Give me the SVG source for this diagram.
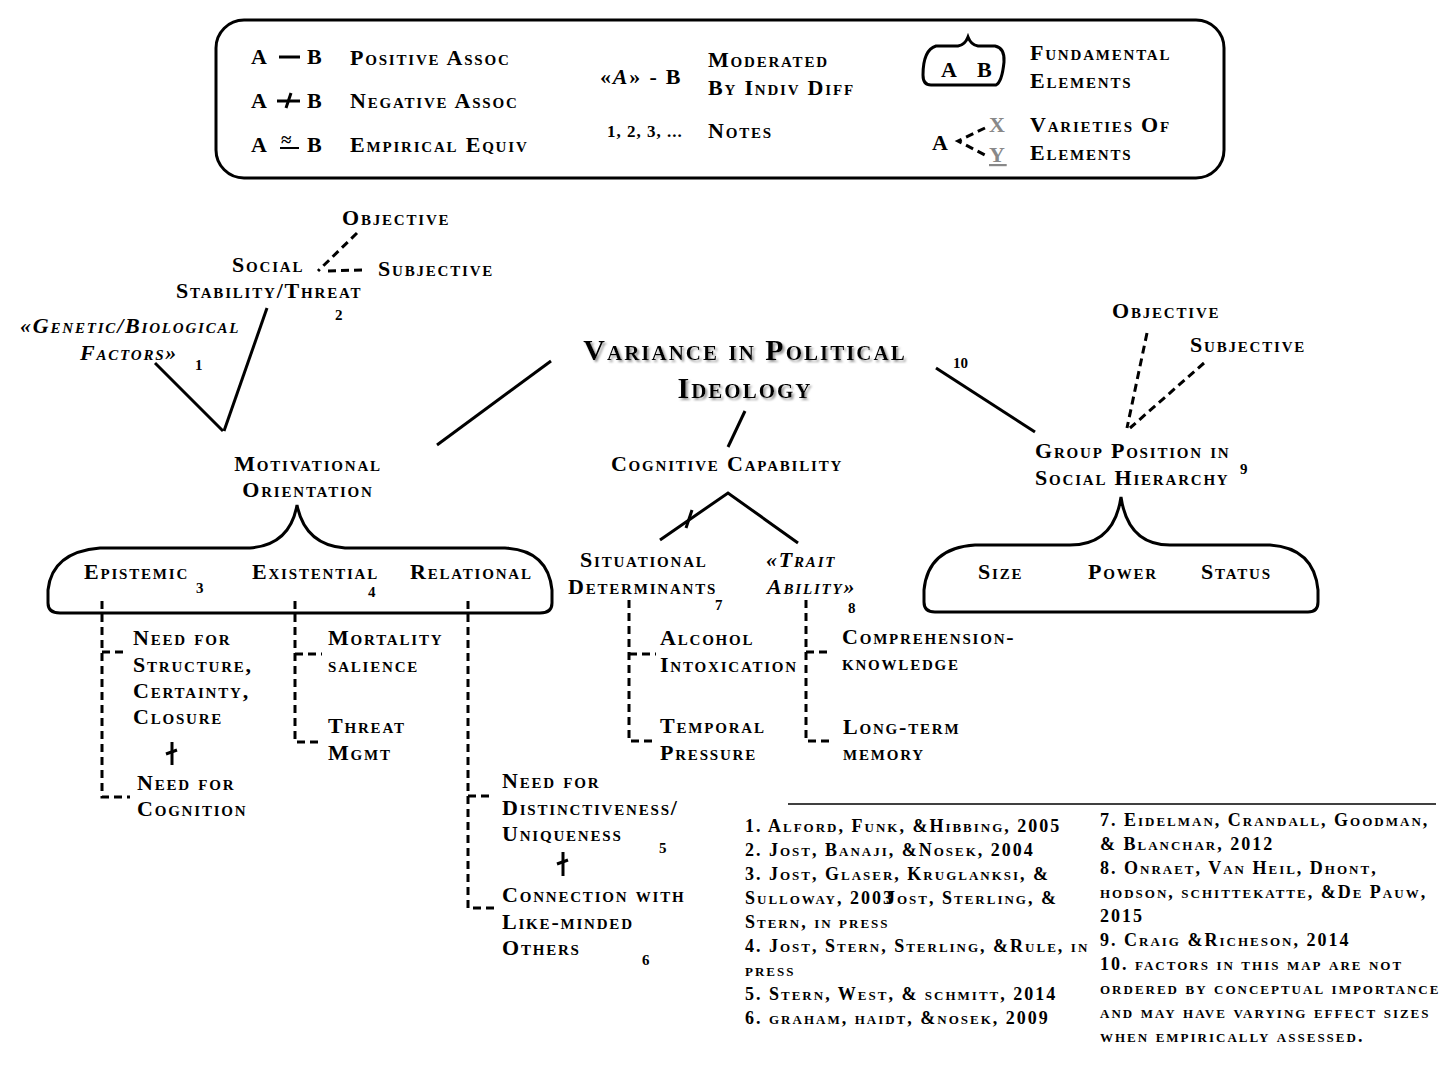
<svg xmlns="http://www.w3.org/2000/svg" width="1440" height="1080" viewBox="0 0 1440 1080">
<style>
text{font-family:"Liberation Serif","Times New Roman",serif;font-variant:small-caps;font-weight:bold;font-size:22px;letter-spacing:1.8px;fill:#000}
.n{font-size:15px;font-variant:normal;letter-spacing:0}
.it{font-style:italic}
.nt{font-size:18px;letter-spacing:2px}
.ttl{font-size:30px;letter-spacing:2px;filter:url(#sh)}
.g{fill:#888}
.s{stroke:#000;stroke-width:3;fill:none;stroke-linecap:butt}
.d{stroke:#000;stroke-width:3;fill:none;stroke-dasharray:8 5}
.thin{stroke:#000;stroke-width:1.5;fill:none}
</style>
<defs>
<filter id="sh" x="-10%" y="-20%" width="120%" height="150%"><feDropShadow dx="2" dy="2" stdDeviation="1" flood-color="#999"/></filter>
</defs>
<rect width="1440" height="1080" fill="#fff"/>
<g id="legend">
<rect x="216" y="20" width="1008" height="158" rx="28" class="s"/>
<text x="251" y="64">A</text><line x1="279" y1="57" x2="300" y2="57" class="s"/><text x="307" y="64">B</text>
<text x="350" y="65">Positive Assoc</text>
<text x="251" y="108">A</text><line x1="277" y1="101" x2="300" y2="101" class="s"/><line x1="291" y1="93" x2="286" y2="108" class="s"/><text x="307" y="108">B</text>
<text x="350" y="108">Negative Assoc</text>
<text x="251" y="152">A</text><text x="281" y="146" style="font-size:19px;letter-spacing:0">≈</text><line x1="280" y1="148" x2="299" y2="148" class="s" style="stroke-width:2"/><text x="307" y="152">B</text>
<text x="350" y="152">Empirical Equiv</text>
<text x="600" y="84">«<tspan class="it">A</tspan>» - B</text>
<text x="708" y="67">Moderated</text>
<text x="708" y="95">By Indiv Diff</text>
<text x="607" y="137" style="font-size:17px;font-variant:normal;letter-spacing:1px">1, 2, 3, ...</text>
<text x="708" y="138">Notes</text>
<path d="M931,85 Q923,85 923,75 Q923,50 936,46 L958,46 Q965,45 968,37 Q971,45 978,46 L995,46 Q1005,48 1004,62 Q1002,82 996,85 Z" class="s"/>
<text x="941" y="77">A</text><text x="977" y="77">B</text>
<text x="1030" y="60">Fundamental</text>
<text x="1030" y="88">Elements</text>
<text x="932" y="150">A</text>
<path d="M985,128 L958,141 L985,155" class="d"/>
<text x="989" y="132" class="g">X</text>
<text x="989" y="162" class="g" style="text-decoration:underline">Y</text>
<text x="1030" y="132">Varieties Of</text>
<text x="1030" y="160">Elements</text>
</g>
<g id="connectors">
<line x1="155" y1="363" x2="223" y2="431" class="s"/>
<line x1="267" y1="308" x2="224" y2="431" class="s"/>
<line x1="357" y1="233" x2="318" y2="271" class="d"/>
<line x1="362" y1="270" x2="324" y2="271" class="d"/>
<line x1="437" y1="445" x2="551" y2="361" class="s"/>
<line x1="745" y1="411" x2="728" y2="447" class="s"/>
<line x1="936" y1="368" x2="1035" y2="432" class="s"/>
<line x1="1147" y1="333" x2="1127" y2="428" class="d"/>
<line x1="1204" y1="363" x2="1130" y2="428" class="d"/>
<path d="M660,540 L728,493 L798,543" class="s"/>
<line x1="692" y1="510" x2="686" y2="528" class="s"/>
<path d="M60,613 L540,613 Q552,613 552,603 L552,590 Q548,550 505,548 L345,548 Q305,545 297,505 Q290,545 250,548 L100,548 Q52,552 48,590 L48,603 Q48,613 60,613 Z" class="s"/>
<path d="M935,612 L1308,612 Q1318,612 1318,602 L1318,590 Q1314,548 1270,545 L1170,545 Q1128,545 1121,497 Q1114,545 1070,545 L975,545 Q928,548 924,590 L924,602 Q924,612 935,612 Z" class="s"/>
<path d="M102,601 L102,797 L130,797 M102,652 L128,652" class="d"/>
<line x1="172" y1="742" x2="172" y2="765" class="s"/><line x1="166" y1="754" x2="177" y2="750" class="s"/>
<path d="M295,601 L295,742 L322,742 M295,654 L322,654" class="d"/>
<path d="M468,601 L468,908 L494,908 M468,796 L494,796" class="d"/>
<line x1="563" y1="852" x2="563" y2="876" class="s"/><line x1="557" y1="864" x2="568" y2="860" class="s"/>
<path d="M629,600 L629,741 L656,741 M629,654 L656,654" class="d"/>
<path d="M806,600 L806,741 L830,741 M806,652 L830,652" class="d"/>
<line x1="788" y1="804" x2="1436" y2="804" class="thin"/>
</g>
<g id="node-social">
<text x="342" y="225">Objective</text>
<text x="378" y="276">Subjective</text>
<text x="232" y="272">Social</text>
<text x="176" y="298">Stability/Threat</text>
<text x="335" y="320" class="n">2</text>
</g>
<g id="node-genetic">
<text x="20" y="333" class="it">«Genetic/Biological</text>
<text x="80" y="360" class="it">Factors»</text>
<text x="195" y="370" class="n">1</text>
</g>
<g id="node-title">
<text x="745" y="360" text-anchor="middle" class="ttl">Variance in Political</text>
<text x="745" y="398" text-anchor="middle" class="ttl">Ideology</text>
<text x="953" y="368" class="n">10</text>
</g>
<g id="node-motivational">
<text x="308" y="471" text-anchor="middle">Motivational</text>
<text x="308" y="497" text-anchor="middle">Orientation</text>
<text x="84" y="579">Epistemic</text>
<text x="196" y="593" class="n">3</text>
<text x="252" y="579">Existential</text>
<text x="368" y="597" class="n">4</text>
<text x="410" y="579">Relational</text>
</g>
<g id="node-epistemic-items">
<text x="133" y="645">Need for</text>
<text x="133" y="672">Structure,</text>
<text x="133" y="698">Certainty,</text>
<text x="133" y="724">Closure</text>
<text x="137" y="790">Need for</text>
<text x="137" y="816">Cognition</text>
</g>
<g id="node-existential-items">
<text x="328" y="645">Mortality</text>
<text x="328" y="672">salience</text>
<text x="328" y="733">Threat</text>
<text x="328" y="760">Mgmt</text>
</g>
<g id="node-relational-items">
<text x="502" y="788">Need for</text>
<text x="502" y="815">Distinctiveness/</text>
<text x="502" y="841">Uniqueness</text>
<text x="659" y="853" class="n">5</text>
<text x="502" y="902">Connection with</text>
<text x="502" y="929">Like-minded</text>
<text x="502" y="955">Others</text>
<text x="642" y="965" class="n">6</text>
</g>
<g id="node-cognitive">
<text x="727" y="471" text-anchor="middle">Cognitive Capability</text>
<text x="580" y="567">Situational</text>
<text x="568" y="594">Determinants</text>
<text x="715" y="610" class="n">7</text>
<text x="766" y="567" class="it">«Trait</text>
<text x="767" y="594" class="it">Ability»</text>
<text x="848" y="613" class="n">8</text>
<text x="660" y="645">Alcohol</text>
<text x="660" y="672">Intoxication</text>
<text x="660" y="733">Temporal</text>
<text x="660" y="760">Pressure</text>
<text x="842" y="644">Comprehension-</text>
<text x="842" y="670">knowledge</text>
<text x="843" y="734">Long-term</text>
<text x="843" y="760">memory</text>
</g>
<g id="node-group">
<text x="1112" y="318">Objective</text>
<text x="1190" y="352">Subjective</text>
<text x="1035" y="458">Group Position in</text>
<text x="1035" y="485">Social Hierarchy</text>
<text x="1240" y="474" class="n">9</text>
<text x="978" y="579">Size</text>
<text x="1088" y="579">Power</text>
<text x="1201" y="579">Status</text>
</g>
<g id="notes">
<text x="745" y="832" class="nt">1. Alford, Funk, &amp;Hibbing, 2005</text>
<text x="745" y="856" class="nt">2. Jost, Banaji, &amp;Nosek, 2004</text>
<text x="745" y="880" class="nt">3. Jost, Glaser, Kruglanksi, &amp;</text>
<text x="745" y="904" class="nt">Sulloway, 2003</text>
<text x="886" y="904" class="nt">Jost, Sterling, &amp;</text>
<text x="745" y="928" class="nt">Stern, in press</text>
<text x="745" y="952" class="nt">4. Jost, Stern, Sterling, &amp;Rule, in</text>
<text x="745" y="976" class="nt">press</text>
<text x="745" y="1000" class="nt">5. Stern, West, &amp; schmitt, 2014</text>
<text x="745" y="1024" class="nt">6. graham, haidt, &amp;nosek, 2009</text>
<text x="1100" y="826" class="nt">7. Eidelman, Crandall, Goodman,</text>
<text x="1100" y="850" class="nt">&amp; Blanchar, 2012</text>
<text x="1100" y="874" class="nt">8. Onraet, Van Heil, Dhont,</text>
<text x="1100" y="898" class="nt">hodson, schittekatte, &amp;De Pauw,</text>
<text x="1100" y="922" class="nt">2015</text>
<text x="1100" y="946" class="nt">9. Craig &amp;Richeson, 2014</text>
<text x="1100" y="970" class="nt">10. factors in this map are not</text>
<text x="1100" y="994" class="nt">ordered by conceptual importance</text>
<text x="1100" y="1018" class="nt">and may have varying effect sizes</text>
<text x="1100" y="1042" class="nt">when empirically assessed.</text>
</g>
</svg>
